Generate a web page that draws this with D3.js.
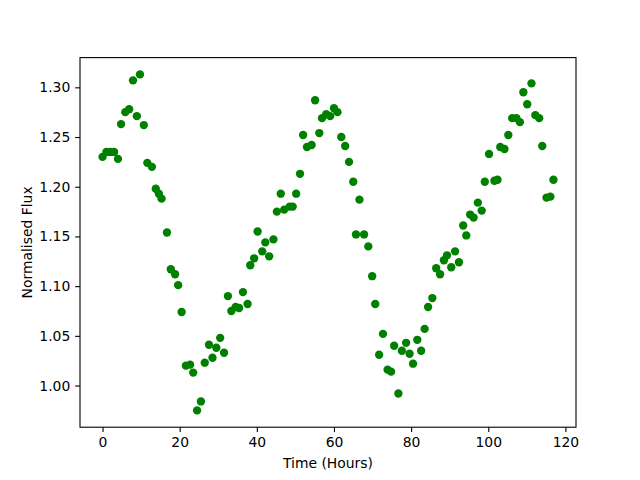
<!DOCTYPE html>
<html>
<head>
<meta charset="utf-8">
<script src="https://cdn.jsdelivr.net/npm/d3@7"></script>
<style>
  html, body { margin: 0; padding: 0; background: #ffffff; }
  text { font-family: 'DejaVu Sans', sans-serif; }
</style>
</head>
<body>
<div id="chart"></div>
<script>
// time in hours
const timeHours = [
  0.0, 1.0, 2.0, 3.0, 4.0, 4.8, 5.9, 6.9, 7.9, 8.9,
  9.7, 10.7, 11.6, 12.8, 13.8, 14.6, 15.3, 16.7, 17.7, 18.8,
  19.6, 20.5, 21.6, 22.7, 23.5, 24.5, 25.5, 26.5, 27.6, 28.5,
  29.5, 30.5, 31.5, 32.5, 33.4, 34.5, 35.4, 36.4, 37.6, 38.3,
  39.3, 40.2, 41.4, 42.2, 43.2, 44.3, 45.2, 46.2, 47.1, 48.5,
  49.3, 50.2, 51.2, 52.0, 53.0, 54.2, 55.1, 56.2, 56.9, 58.0,
  59.0, 60.0, 60.9, 61.9, 62.9, 63.9, 65.0, 65.7, 66.6, 67.8,
  68.9, 69.9, 70.7, 71.7, 72.7, 73.9, 74.8, 75.6, 76.7, 77.6,
  78.7, 79.6, 80.5, 81.6, 82.6, 83.5, 84.4, 85.5, 86.5, 87.5,
  88.5, 89.3, 90.4, 91.4, 92.4, 93.5, 94.3, 95.3, 96.2, 97.3,
  98.3, 99.1, 100.2, 101.6, 102.4, 103.1, 104.2, 105.2, 106.2, 107.3,
  108.2, 109.1, 110.1, 111.2, 112.2, 113.2, 114.0, 115.1, 116.1, 116.9
]

const flux = [
  1.230, 1.235, 1.235, 1.235, 1.228, 1.263, 1.275, 1.278, 1.307, 1.271,
  1.313, 1.262, 1.224, 1.220, 1.198, 1.193, 1.188, 1.154, 1.117, 1.112,
  1.101, 1.074, 1.020, 1.021, 1.013, 0.975, 0.984, 1.023, 1.041, 1.028,
  1.038, 1.048, 1.033, 1.090, 1.075, 1.079, 1.078, 1.094, 1.082, 1.121,
  1.128, 1.155, 1.135, 1.144, 1.130, 1.147, 1.175, 1.193, 1.177, 1.180,
  1.180, 1.193, 1.213, 1.252, 1.240, 1.242, 1.287, 1.254, 1.269, 1.273,
  1.271, 1.279, 1.275, 1.250, 1.241, 1.225, 1.205, 1.152, 1.187, 1.152,
  1.140, 1.110, 1.082, 1.031, 1.052, 1.016, 1.014, 1.040, 0.992, 1.035,
  1.043, 1.032, 1.022, 1.046, 1.035, 1.057, 1.079, 1.088, 1.118, 1.112,
  1.126, 1.131, 1.119, 1.135, 1.124, 1.161, 1.151, 1.172, 1.169, 1.184,
  1.176, 1.205, 1.233, 1.206, 1.207, 1.240, 1.238, 1.252, 1.269, 1.269,
  1.265, 1.295, 1.283, 1.304, 1.272, 1.269, 1.241, 1.189, 1.190, 1.207
]

const xTicks = [0, 20, 40, 60, 80, 100, 120]
const yTicks = [1.00, 1.05, 1.10, 1.15, 1.20, 1.25, 1.30]

const WIDTH = 640
const HEIGHT = 480
const MARGIN = { top: 57.6, right: 64, bottom: 52.8, left: 80 }
const plotWidth = WIDTH - MARGIN.left - MARGIN.right
const plotHeight = HEIGHT - MARGIN.top - MARGIN.bottom

const points = timeHours.map((t, i) => ({ t: t, f: flux[i] }))

// matplotlib style 5% padding around the data
const pad = (lo, hi) => {
  const m = (hi - lo) * 0.05
  return [lo - m, hi + m]
}

const svg = d3.select('#chart')
  .append('svg')
  .attr('width', WIDTH)
  .attr('height', HEIGHT)

const g = svg.append('g')
  .attr('transform', `translate(${MARGIN.left},${MARGIN.top})`)

// =================== Scales =================
const xScale = d3.scaleLinear()
  .domain(pad(d3.min(timeHours), d3.max(timeHours)))
  .range([0, plotWidth])

const yScale = d3.scaleLinear()
  .domain(pad(d3.min(flux), d3.max(flux)))
  .range([plotHeight, 0])

const tickLen = 4.86
const tickPad = 4.86

const xAxis = d3.axisBottom(xScale)
  .tickValues(xTicks)
  .tickFormat(d3.format('d'))
  .tickSizeInner(tickLen)
  .tickSizeOuter(0)
  .tickPadding(tickPad)

const yAxis = d3.axisLeft(yScale)
  .tickValues(yTicks)
  .tickFormat(d3.format('.2f'))
  .tickSizeInner(tickLen)
  .tickSizeOuter(0)
  .tickPadding(tickPad)

const gx = g.append('g')
  .attr('transform', `translate(0,${plotHeight})`)
  .call(xAxis)

const gy = g.append('g')
  .call(yAxis)

svg.selectAll('.domain').remove()
svg.selectAll('.tick line')
  .attr('stroke', '#000')
  .attr('stroke-width', 1.1)
svg.selectAll('.tick text')
  .attr('fill', '#000')
  .style('font-size', '13.9px')
  .style('font-family', "'DejaVu Sans', sans-serif")

// =================== Points =================
g.selectAll('circle.pt')
  .data(points)
  .enter()
  .append('circle')
  .classed('pt', true)
  .attr('cx', d => xScale(d.t))
  .attr('cy', d => yScale(d.f))
  .attr('r', 4.17)
  .attr('fill', '#008000')

// frame
g.append('rect')
  .attr('x', 0)
  .attr('y', 0)
  .attr('width', plotWidth)
  .attr('height', plotHeight)
  .attr('fill', 'none')
  .attr('stroke', '#000')
  .attr('stroke-width', 1.1)

// =================== Labels =================
svg.append('text')
  .attr('x', MARGIN.left + plotWidth / 2)
  .attr('y', 468)
  .attr('text-anchor', 'middle')
  .style('font-size', '13.9px')
  .text('Time (Hours)')

svg.append('text')
  .attr('transform', `translate(27,${MARGIN.top + plotHeight / 2}) rotate(-90)`)
  .attr('dy', '0.35em')
  .attr('text-anchor', 'middle')
  .style('font-size', '13.9px')
  .text('Normalised Flux')
</script>
</body>
</html>
